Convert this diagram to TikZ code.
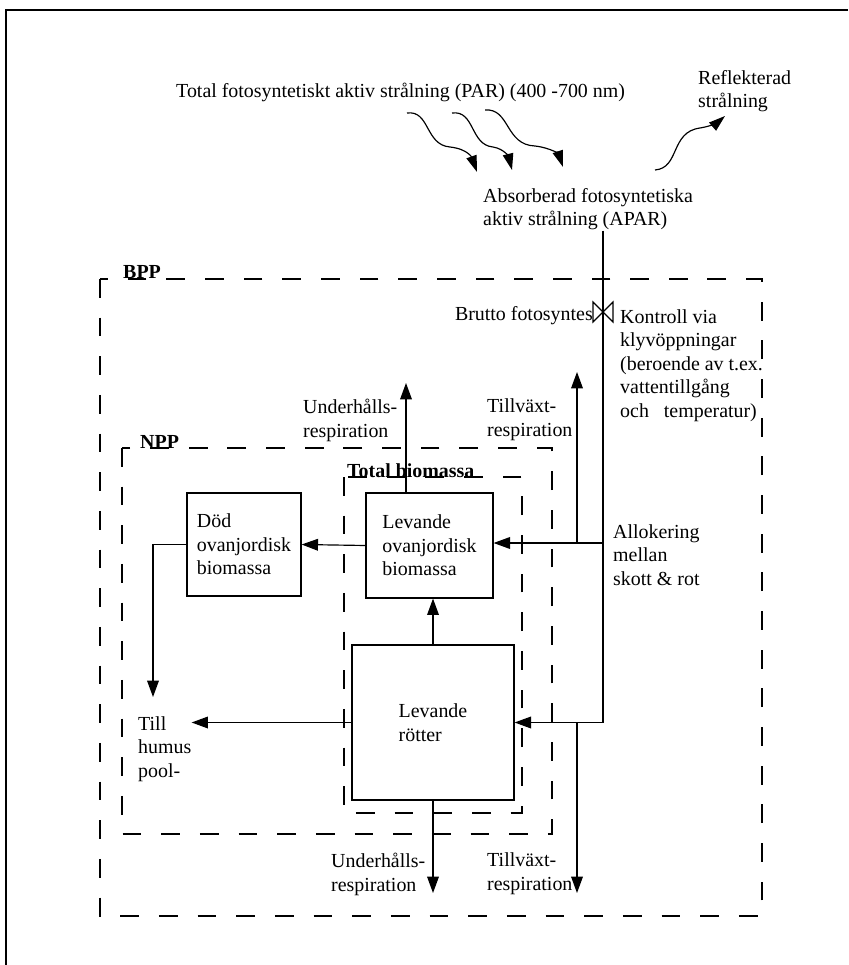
\documentclass[tikz,border=0pt]{standalone}
\usepackage{fontspec}
\setmainfont{Liberation Serif}
\usetikzlibrary{arrows.meta, positioning, calc}

\begin{document}
\begin{tikzpicture}[
    x=0.03cm, y=-0.03cm,
    font=\fontsize{17}{20}\selectfont,
    lbl/.style={align=left, inner sep=0pt, anchor=base west},
    tag/.style={inner sep=0pt, anchor=base west, font=\fontsize{17}{20}\selectfont\bfseries},
    box/.style={
        rectangle, draw, line width=1pt,
        align=left, inner sep=0pt
    },
    frame/.style={line width=1.4pt, dash pattern=on 16pt off 17pt},
    flow/.style={line width=1pt},
    arr/.style={-{Triangle[length=14pt, width=10pt]}, line width=1pt},
    wave/.style={-{Triangle[length=14pt, width=9pt]}, line width=1pt},
]

\useasboundingbox (0,0) rectangle (848,965);
\draw[line width=1.5pt] (848,10) -- (6,10) -- (6,965);

% ── Incoming / reflected radiation ────────────────────────────
% (base of a multi-line node = baseline of its last line)
\node[lbl] (par) at (176,98) {Total fotosyntetiskt aktiv strålning (PAR) (400 -700 nm)};
\node[lbl] (refl) at (698,108) {Reflekterad\\strålning};
\node[lbl] (apar) at (483,226) {Absorberad fotosyntetiska\\aktiv strålning (APAR)};

\coordinate (w1s) at (407,113);
\coordinate (w1e) at (477,172);
\coordinate (w2s) at (452,113);
\coordinate (w2e) at (512,170);
\coordinate (w3s) at (485,110);
\coordinate (w3e) at (563,167);
\coordinate (r1s) at (655,170);
\coordinate (r1e) at (725,116);

\draw[wave] (w1s) .. controls (430,110) and (425,145) .. (450,147) .. controls (468,149) and (472,158) .. (w1e);
\draw[wave] (w2s) .. controls (475,110) and (470,145) .. (493,147) .. controls (505,149) and (509,158) .. (w2e);
\draw[wave] (w3s) .. controls (510,108) and (505,145) .. (535,146) .. controls (552,148) and (559,155) .. (w3e);
\draw[wave] (r1s) .. controls (680,168) and (670,132) .. (700,128) .. controls (712,126) and (718,122) .. (r1e);

% ── Frames ────────────────────────────
\draw[frame] (100,279) rectangle (762,916);
\draw[frame] (122,448) rectangle (552,834);
\draw[frame] (344,477) rectangle (522,813);
\node[tag] (bpp) at (123,279) {BPP};
\node[tag] (npp) at (140,448) {NPP};
\node[tag] (totbio) at (347,477) {Total biomassa};

% ── Pools ────────────────────────────
\node[box, minimum width=3.42cm, minimum height=3.09cm] (dod) at (244,544.5) {Död\\ovanjordisk\\biomassa};
\node[box, minimum width=3.81cm, minimum height=3.15cm] (levov) at (429.5,545.5) {Levande\\ovanjordisk\\biomassa};
\node[box, minimum width=4.86cm, minimum height=4.65cm] (levrot) at (433,722.5) {Levande\\rötter};
\node[lbl] (humus) at (138,777) {Till\\humus\\pool-};

% ── Photosynthesis & allocation ────────────────────────────
\coordinate (valve) at (603,312);
\coordinate (shootjn) at (603,543);
\coordinate (rootjn) at (603,722.5);
\node[lbl, anchor=base east] (brutto) at (593,320) {Brutto fotosyntes};
\node[lbl] (kontroll) at (620,417) {Kontroll via\\klyvöppningar\\(beroende av t.ex.\\vattentillgång\\och\ \ \ temperatur)};
\node[lbl] (allok) at (613,585) {Allokering\\mellan\\skott \& rot};

\draw[flow] (apar.south -| valve) -- (rootjn);
\draw[flow] (593,302) -- (613,322) -- (613,302) -- (593,322) -- cycle;
\draw[arr] (shootjn) -- (shootjn -| levov.east);
\draw[arr] (rootjn) -- (levrot.east);
\draw[arr] (levrot.north) -- (levrot.north |- levov.south);
\draw[arr] (levov.west) -- (dod.east);
\coordinate (humtip) at (153,697);
\draw[arr] (dod.west) -| (humtip);
\draw[arr] (levrot.west) -- (levrot.west -| humus.east);

% ── Respiration ────────────────────────────
\coordinate (tvjn1) at (577,543);
\coordinate (tvtip1) at (577,372);
\coordinate (tvjn2) at (577,722.5);
\coordinate (tvtip2) at (577,893);
\coordinate (uhtip1) at (406,383);
\node[lbl] (tvresp1) at (487,436) {Tillväxt-\\respiration};
\node[lbl] (uhresp1) at (303,437) {Underhålls-\\respiration};
\node[lbl] (uhresp2) at (331,891) {Underhålls-\\respiration};
\node[lbl] (tvresp2) at (487,890) {Tillväxt-\\respiration};

\draw[arr] (tvjn1) -- (tvtip1);
\draw[arr] (tvjn2) -- (tvtip2);
\draw[arr] (levov.north -| uhtip1) -- (uhtip1);
\draw[arr] (levrot.south) -- (levrot.south |- tvtip2);

\end{tikzpicture}
\end{document}
